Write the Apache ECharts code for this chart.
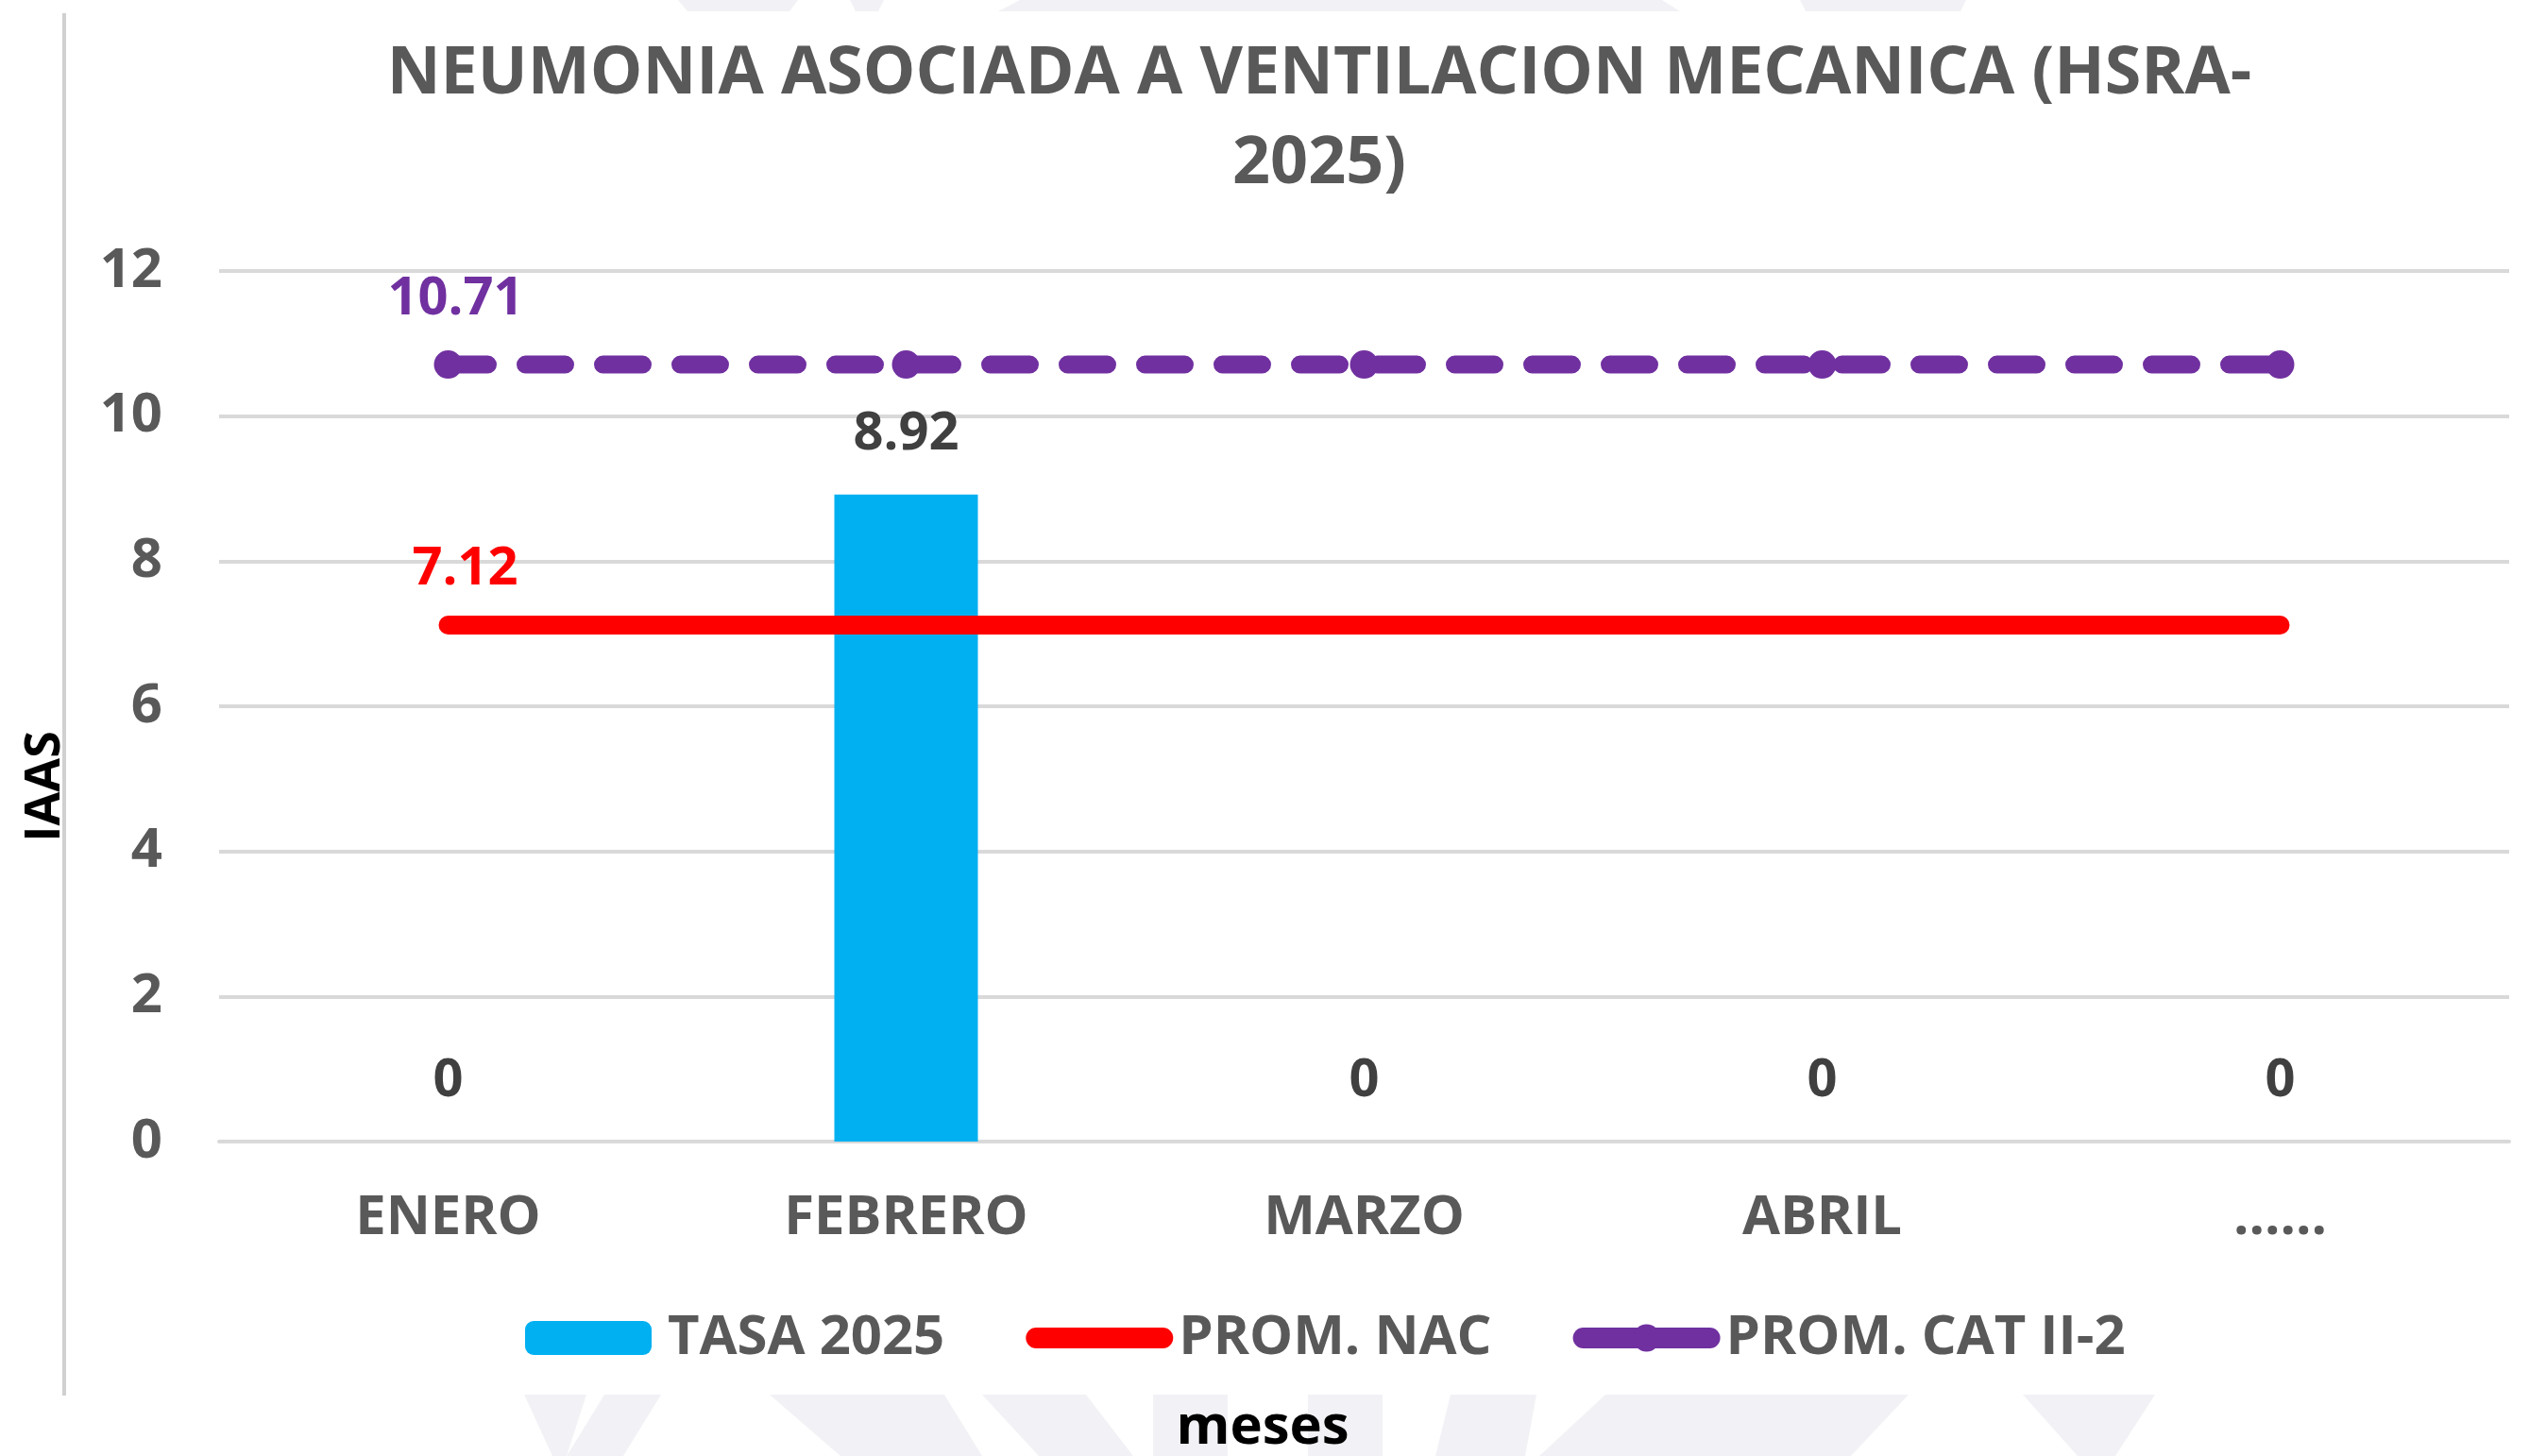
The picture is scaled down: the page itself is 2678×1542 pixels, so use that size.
<!DOCTYPE html>
<html>
<head>
<meta charset="utf-8">
<script src="https://cdn.jsdelivr.net/npm/echarts@6/dist/echarts.min.js"></script>
<style>
  html, body { margin: 0; padding: 0; background: #fff; }
  #main { width: 2678px; height: 1542px; }
</style>
</head>
<body>
<div id="main"></div>
<script>
let myChart = echarts.init(document.getElementById('main'));

// datos
const meses = ['ENERO', 'FEBRERO', 'MARZO', 'ABRIL', '......'];
const tasa2025 = [0, 8.92, 0, 0, 0];
const promNac = [7.12, 7.12, 7.12, 7.12, 7.12];
const promCat = [10.71, 10.71, 10.71, 10.71, 10.71];
const yTicks = [0, 2, 4, 6, 8, 10, 12];

const gris = '#595959';
const fuente = 'Open Sans';
const marca = '#f2f2f6';

// marca de agua de fondo (solo decorativa)
function poly(points) {
  return { type: 'polygon', shape: { points: points }, style: { fill: marca }, z: -10, silent: true };
}

let option = {
  backgroundColor: '#fff',
  textStyle: { fontFamily: fuente },
  title: {
    text: 'NEUMONIA ASOCIADA A VENTILACION MECANICA (HSRA-\n2025)',
    left: 1392,
    textAlign: 'center',
    top: 27,
    textStyle: {
      color: gris,
      fontSize: 70,
      fontWeight: 'bold',
      lineHeight: 95,
      fontFamily: fuente
    }
  },
  graphic: [
    poly([[718, 0], [845, 0], [836, 12], [728, 12]]),
    poly([[900, 0], [936, 0], [930, 12], [906, 12]]),
    poly([[1080, 0], [1760, 0], [1779, 12], [1057, 12]]),
    poly([[1906, 0], [2082, 0], [2076, 12], [1912, 12]]),
    poly([[555, 1477], [621, 1477], [600, 1542], [585, 1542]]),
    poly([[640, 1477], [700, 1477], [660, 1542], [600, 1542]]),
    poly([[815, 1477], [1000, 1477], [1040, 1542], [890, 1542]]),
    poly([[1040, 1477], [1150, 1477], [1200, 1542], [1100, 1542]]),
    poly([[1221, 1477], [1300, 1477], [1300, 1542], [1221, 1542]]),
    poly([[1385, 1477], [1464, 1477], [1464, 1542], [1385, 1542]]),
    poly([[1536, 1477], [1627, 1477], [1615, 1542], [1520, 1542]]),
    poly([[1700, 1477], [2021, 1477], [1960, 1542], [1630, 1542]]),
    poly([[2142, 1477], [2282, 1477], [2240, 1542], [2200, 1542]]),
    {
      type: 'line',
      shape: { x1: 68, y1: 14, x2: 68, y2: 1478 },
      style: { stroke: '#d0d0d0', lineWidth: 4 }
    },
    {
      type: 'text',
      x: 48,
      y: 833,
      rotation: Math.PI / 2,
      style: {
        text: 'IAAS',
        fill: '#000',
        font: 'bold 52px "Open Sans"',
        align: 'center',
        verticalAlign: 'middle'
      }
    },
    {
      type: 'text',
      x: 1337,
      y: 1512,
      style: {
        text: 'meses',
        fill: '#000',
        font: 'bold 58px "Open Sans"',
        align: 'center',
        verticalAlign: 'middle'
      }
    }
  ],
  legend: {
    top: 1383,
    left: 551,
    itemWidth: 134,
    itemHeight: 36,
    itemGap: 86,
    textStyle: {
      color: gris,
      fontSize: 58,
      fontWeight: 'bold',
      fontFamily: fuente,
      padding: [0, 0, 0, 12]
    },
    data: [
      { name: 'TASA 2025' },
      {
        name: 'PROM. NAC',
        itemStyle: { opacity: 0 },
        lineStyle: { width: 22, cap: 'round' }
      },
      {
        name: 'PROM. CAT II-2',
        lineStyle: { width: 22, cap: 'round', type: 'solid' }
      }
    ]
  },
  grid: {
    left: 232,
    right: 21,
    top: 287,
    bottom: 333,
    containLabel: false,
    outerBoundsMode: 'none'
  },
  xAxis: {
    type: 'category',
    data: meses,
    axisLine: { lineStyle: { color: '#d9d9d9', width: 4 } },
    axisTick: { show: false },
    axisLabel: {
      color: gris,
      fontSize: 58,
      fontWeight: 'bold',
      margin: 52
    }
  },
  yAxis: {
    type: 'value',
    min: yTicks[0],
    max: yTicks[yTicks.length - 1],
    interval: 2,
    axisLine: { show: false },
    axisTick: { show: false },
    splitLine: { lineStyle: { color: '#d9d9d9', width: 4 } },
    axisLabel: {
      color: gris,
      fontSize: 58,
      fontWeight: 'bold',
      margin: 60
    }
  },
  series: [
    {
      name: 'TASA 2025',
      type: 'bar',
      data: tasa2025,
      barWidth: 152,
      itemStyle: { color: '#00B0F0' },
      label: {
        show: true,
        position: 'top',
        distance: 36,
        color: '#404040',
        fontSize: 56,
        fontWeight: 'bold',
        fontFamily: fuente
      },
      z: 2
    },
    {
      name: 'PROM. NAC',
      type: 'line',
      data: promNac.map(function (v, i) {
        return i === 0 ? { value: v, label: { show: true } } : v;
      }),
      symbol: 'circle',
      symbolSize: 1,
      itemStyle: { color: '#FF0000' },
      lineStyle: { color: '#FF0000', width: 20, cap: 'round' },
      label: {
        show: false,
        position: 'top',
        distance: 30,
        offset: [18, 0],
        color: '#FF0000',
        fontSize: 56,
        fontWeight: 'bold',
        fontFamily: fuente
      },
      z: 3
    },
    {
      name: 'PROM. CAT II-2',
      type: 'line',
      data: promCat.map(function (v, i) {
        return i === 0 ? { value: v, label: { show: true } } : v;
      }),
      symbol: 'circle',
      symbolSize: 30,
      itemStyle: { color: '#7030A0' },
      lineStyle: { color: '#7030A0', width: 19, type: [42, 40], cap: 'round' },
      label: {
        show: false,
        position: 'top',
        distance: 26,
        offset: [8, 0],
        color: '#7030A0',
        fontSize: 56,
        fontWeight: 'bold',
        fontFamily: fuente
      },
      z: 4
    }
  ]
};

myChart.setOption(option);
</script>
</body>
</html>
